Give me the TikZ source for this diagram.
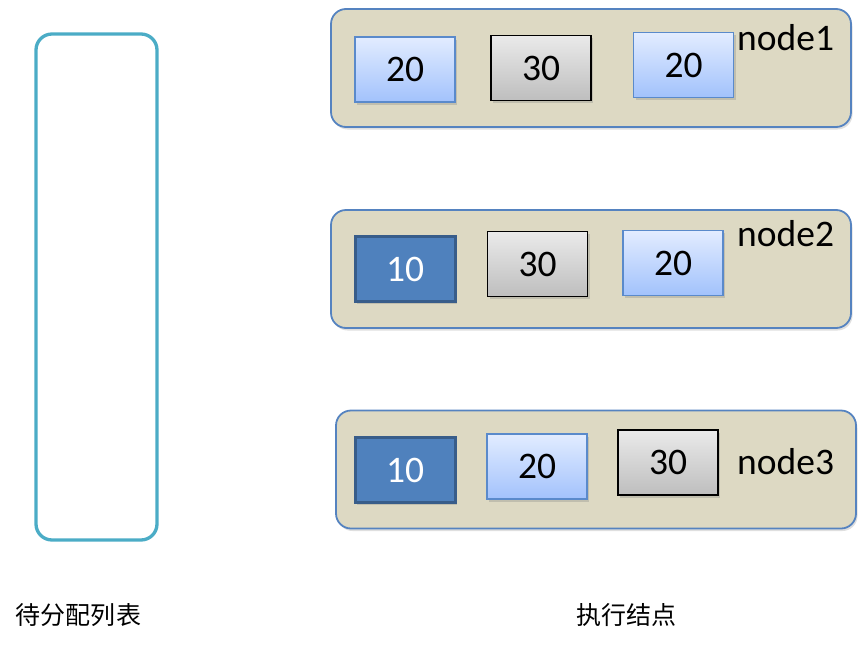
\documentclass[tikz,border=0pt]{standalone}
\usepackage{fontspec}
\setmainfont{Carlito}
\newfontfamily\cjk{Noto Sans CJK SC}
\usetikzlibrary{shadows}
\definecolor{contfill}{HTML}{DDD9C3}
\definecolor{contline}{HTML}{5583C0}
\definecolor{listline}{HTML}{4BACC6}
\definecolor{lbtop}{HTML}{E2ECFF}
\definecolor{lbbot}{HTML}{A2C2FC}
\definecolor{lbline}{HTML}{5A8ACB}
\definecolor{gtop}{HTML}{EAEAEA}
\definecolor{gbot}{HTML}{BEBEBE}
\definecolor{dbfill}{HTML}{4F81BD}
\definecolor{dbline}{HTML}{385D8A}
\tikzset{
  container/.style={draw=contline, line width=1.8pt, fill=contfill, rounded corners=15pt,
    minimum width=520pt, minimum height=118pt, inner sep=0pt,
    drop shadow={shadow xshift=1.5pt, shadow yshift=-2.5pt, opacity=0.25}},
  box/.style={minimum width=100pt, minimum height=65pt, inner sep=0pt, font=\fontsize{37.5}{44}\selectfont,
    drop shadow={shadow xshift=2pt, shadow yshift=-2.5pt, opacity=0.3}},
  lbox/.style={box, draw=lbline, line width=1.4pt, top color=lbtop, bottom color=lbbot},
  gbox/.style={box, draw=black, line width=1.4pt, top color=gtop, bottom color=gbot},
  dbox/.style={box, draw=dbline, line width=3pt, fill=dbfill, text=white},
  nlabel/.style={font=\fontsize{37.5}{44}\selectfont, inner sep=0pt, anchor=west},
  captext/.style={font=\cjk\fontsize{25}{30}\selectfont, inner sep=0pt}
}
\begin{document}
\begin{tikzpicture}[x=1pt,y=-1pt]
\useasboundingbox (0,0) rectangle (864,645);
% pending list
\node[draw=listline, line width=3.3pt, rounded corners=16pt, minimum width=121pt, minimum height=506pt, inner sep=0pt] (list) at (96.5,287) {};
% containers
\node[container] (c1) at (591,68) {};
\node[container] (c2) at (591,269) {};
\node[container] (c3) at (596,469.5) {};
% node1
\node[lbox] (a1) at (405,69.5) {20};
\node[gbox] (a2) at (541,68) {30};
\node[lbox] (a3) at (683.5,65) {20};
\node[nlabel] (l1) at (737,38) {node1};
% node2
\node[dbox] (b1) at (405,269) {10};
\node[gbox] (b2) at (537.5,264) {30};
\node[lbox] (b3) at (673,263) {20};
\node[nlabel] (l2) at (737,234) {node2};
% node3
\node[dbox] (d1) at (405,470) {10};
\node[lbox] (d2) at (537,466.5) {20};
\node[gbox] (d3) at (668,462.5) {30};
\node[nlabel] (l3) at (737,462) {node3};
% captions
\node[captext] (t1) at (78.5,615) {待分配列表};
\node[captext] (t2) at (626,615) {执行结点};
\end{tikzpicture}
\end{document}
